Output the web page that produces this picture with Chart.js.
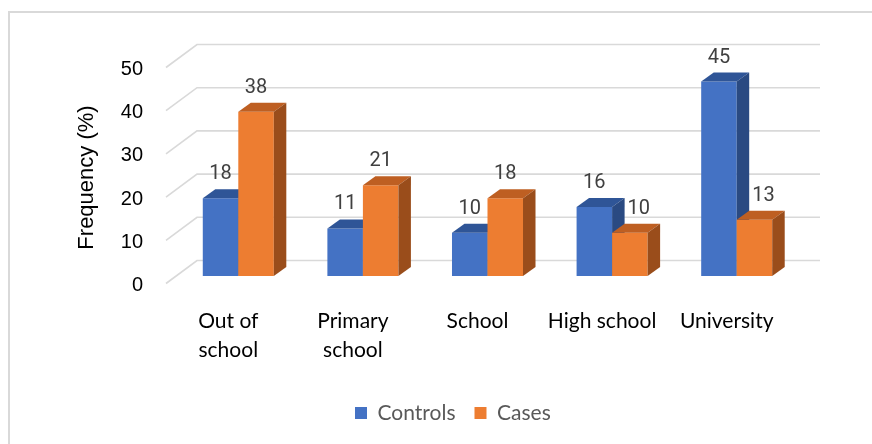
<!DOCTYPE html>
<html>
<head>
<meta charset="utf-8">
<script src="https://cdn.jsdelivr.net/npm/chart.js@4.4.1/dist/chart.umd.min.js"></script>
<style>
  html, body { margin: 0; padding: 0; background: #fff; overflow: hidden; }
  #wrap { position: relative; width: 872px; height: 444px; }
</style>
</head>
<body>
<div id="wrap"><canvas id="chart"></canvas></div>
<script>
// datos
const categories = [['Out of', 'school'], ['Primary', 'school'], 'School', 'High school', 'University'];
const controls = [18, 11, 10, 16, 45];
const cases = [38, 21, 18, 10, 13];
const yTicks = [0, 10, 20, 30, 40, 50];

// caras de las columnas 3D: frente / arriba / lado
const FRONT = ['#4472C4', '#ED7D31'];
const TOP   = ['#2F5597', '#BE5F22'];
const SIDE  = ['#2A4A82', '#9A4D1B'];

const SHIFT = { x: 10, y: -9.5 };   // columnas metidas un poco hacia el fondo
const DEPTH = { x: 12.5, y: -9 };   // grosor de cada columna
const WALL  = { x: 31, y: -23 };    // pared del fondo
const LIFT  = 2;                    // borde frontal de la rejilla sobre el centro de la etiqueta
const LEGEND_X = 355;               // donde empieza el primer cuadro de la leyenda

const fake3d = {
  id: 'fake3d',
  beforeDraw(chart) {
    const ctx = chart.ctx;
    ctx.save();
    ctx.fillStyle = '#fff';
    ctx.fillRect(0, 0, chart.width, chart.height);
    ctx.strokeStyle = '#d9d9d9';
    ctx.lineWidth = 2;
    ctx.strokeRect(9, 12, chart.width + 20, chart.height + 20);
    ctx.restore();
  },
  afterLayout(chart) {
    const lg = chart.legend;
    if (!lg || !lg.lineWidths) return;
    const pad = lg.options.labels.padding;
    const start = (lg.left + pad + lg.right - lg.lineWidths[0]) / 2;
    const dx = LEGEND_X - start;
    lg.left += dx; lg.right += dx;
  },
  beforeDatasetsDraw(chart) {
    const { ctx, chartArea: a, scales: { y } } = chart;
    ctx.save();
    ctx.strokeStyle = '#d9d9d9';
    ctx.lineWidth = 1.6;
    yTicks.forEach(v => {
      const py = y.getPixelForValue(v) - LIFT;
      ctx.beginPath();
      ctx.moveTo(a.left, py);
      ctx.lineTo(a.left + WALL.x, py + WALL.y);
      ctx.lineTo(a.right + WALL.x, py + WALL.y);
      ctx.stroke();
    });
    ctx.restore();
  },
  // se dibuja todo en afterDatasetsDraw para respetar el orden azul -> naranja
  beforeDatasetDraw() { return false; },
  afterDatasetsDraw(chart) {
    const ctx = chart.ctx;
    ctx.save();
    ctx.translate(SHIFT.x, SHIFT.y);
    const metas = chart.data.datasets.map((d, i) => chart.getDatasetMeta(i));
    for (let j = 0; j < categories.length; j++) {
      metas.forEach((meta, i) => {
        const b = meta.data[j];
        const l = b.x - b.width / 2, r = b.x + b.width / 2;
        b.draw(ctx);
        ctx.fillStyle = TOP[i];
        ctx.beginPath();
        ctx.moveTo(l, b.y); ctx.lineTo(l + DEPTH.x, b.y + DEPTH.y);
        ctx.lineTo(r + DEPTH.x, b.y + DEPTH.y); ctx.lineTo(r, b.y);
        ctx.closePath(); ctx.fill();
        ctx.fillStyle = SIDE[i];
        ctx.beginPath();
        ctx.moveTo(r, b.y); ctx.lineTo(r + DEPTH.x, b.y + DEPTH.y);
        ctx.lineTo(r + DEPTH.x, b.base + DEPTH.y); ctx.lineTo(r, b.base);
        ctx.closePath(); ctx.fill();
      });
    }
    // etiquetas de datos (se corren a la derecha si la columna vecina es más alta)
    ctx.font = '20px Roboto';
    ctx.fillStyle = '#404040';
    ctx.textAlign = 'center';
    ctx.textBaseline = 'middle';
    metas.forEach((meta, i) => {
      meta.data.forEach((b, j) => {
        const txt = String(chart.data.datasets[i].data[j]);
        const w = ctx.measureText(txt).width;
        const ty = b.y - 24;
        let tx = b.x;
        if (i > 0) {
          const n = metas[i - 1].data[j];
          if (n.y + DEPTH.y < ty + 10) {
            tx = Math.max(tx, n.x + n.width / 2 + DEPTH.x + 3 + w / 2);
          }
        }
        ctx.fillText(txt, tx, ty);
      });
    });
    ctx.restore();
  }
};

new Chart(document.getElementById('chart'), {
  type: 'bar',
  data: {
    labels: categories,
    datasets: [
      { label: 'Controls', data: controls, backgroundColor: FRONT[0], borderWidth: 0 },
      { label: 'Cases', data: cases, backgroundColor: FRONT[1], borderWidth: 0 }
    ]
  },
  options: {
    responsive: true,
    maintainAspectRatio: false,
    animation: false,
    events: [],
    categoryPercentage: 0.57,
    barPercentage: 1,
    layout: { padding: { left: 0, right: 83, top: 69.5, bottom: 10.5 } },
    plugins: {
      tooltip: { enabled: false },
      legend: {
        position: 'bottom',
        labels: {
          boxWidth: 12, boxHeight: 12, padding: 19,
          color: '#595959',
          font: { family: 'Lato', size: 21 }
        }
      }
    },
    scales: {
      x: {
        grid: { display: false, drawTicks: false },
        border: { display: false },
        ticks: {
          color: '#000', padding: 21,
          maxRotation: 0, minRotation: 0, autoSkip: false,
          font: { family: 'Lato', size: 21, lineHeight: 29 / 21 }
        },
        afterFit: s => { s.height = 98; }
      },
      y: {
        min: 0, max: 50,
        grid: { display: false, drawTicks: false },
        border: { display: false },
        ticks: {
          stepSize: 10, padding: 23, color: '#000',
          font: { family: 'Liberation Sans', size: 20 }
        },
        title: {
          display: true, text: 'Frequency (%)', color: '#000',
          padding: { top: 74, bottom: 0 },
          font: { family: 'Liberation Sans', size: 22 }
        },
        afterFit: s => { s.width = 166; }
      }
    }
  },
  plugins: [fake3d]
});
</script>
</body>
</html>
